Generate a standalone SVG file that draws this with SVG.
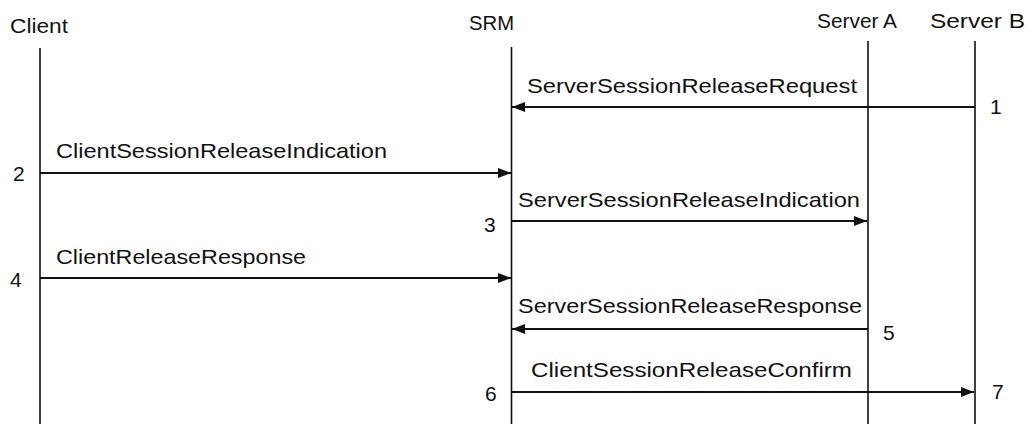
<svg xmlns="http://www.w3.org/2000/svg" width="1029" height="426" viewBox="0 0 1029 426">
<defs>
<style>
text{font-family:"Liberation Sans",Arial,sans-serif;font-size:21px;fill:#111}
.life{stroke:#111;stroke-width:1.6;fill:none}
.msg{stroke:#111;stroke-width:1.8;fill:none;marker-end:url(#ah)}
</style>
<marker id="ah" viewBox="0 0 13 10" refX="13" refY="5" markerWidth="13" markerHeight="10" markerUnits="userSpaceOnUse" orient="auto">
<path d="M0,0 L13,5 L0,10 Z" fill="#111"/>
</marker>
</defs>
<rect width="1029" height="426" fill="#fff"/>
<g id="client">
<text x="10" y="33" textLength="58" lengthAdjust="spacingAndGlyphs">Client</text>
<line class="life" x1="40" y1="48" x2="40" y2="424"/>
</g>
<g id="srm">
<text x="469" y="30" textLength="45" lengthAdjust="spacingAndGlyphs">SRM</text>
<line class="life" x1="511.5" y1="47" x2="511.5" y2="424"/>
</g>
<g id="serverA">
<text x="817" y="28" textLength="80" lengthAdjust="spacingAndGlyphs">Server A</text>
<line class="life" x1="868" y1="41" x2="868" y2="424"/>
</g>
<g id="serverB">
<text x="930" y="28" textLength="95" lengthAdjust="spacingAndGlyphs">Server B</text>
<line class="life" x1="975" y1="41" x2="975" y2="424"/>
</g>
<g id="connectors">
<line class="msg" x1="975" y1="107" x2="512" y2="107"/>
<text x="527" y="93" textLength="330" lengthAdjust="spacingAndGlyphs">ServerSessionReleaseRequest</text>
<text x="990" y="114">1</text>
<line class="msg" x1="40" y1="173" x2="511" y2="173"/>
<text x="56" y="158" textLength="331" lengthAdjust="spacingAndGlyphs">ClientSessionReleaseIndication</text>
<text x="13" y="181">2</text>
<line class="msg" x1="512" y1="221" x2="867" y2="221"/>
<text x="518" y="207" textLength="342" lengthAdjust="spacingAndGlyphs">ServerSessionReleaseIndication</text>
<text x="484" y="232">3</text>
<line class="msg" x1="40" y1="278" x2="511" y2="278"/>
<text x="56" y="264" textLength="250" lengthAdjust="spacingAndGlyphs">ClientReleaseResponse</text>
<text x="10" y="287">4</text>
<line class="msg" x1="868" y1="329" x2="512" y2="329"/>
<text x="518" y="313" textLength="344" lengthAdjust="spacingAndGlyphs">ServerSessionReleaseResponse</text>
<text x="883" y="340">5</text>
<line class="msg" x1="512" y1="392" x2="974" y2="392"/>
<text x="531" y="377" textLength="321" lengthAdjust="spacingAndGlyphs">ClientSessionReleaseConfirm</text>
<text x="485" y="401">6</text>
<text x="992" y="399">7</text>
</g>
</svg>
